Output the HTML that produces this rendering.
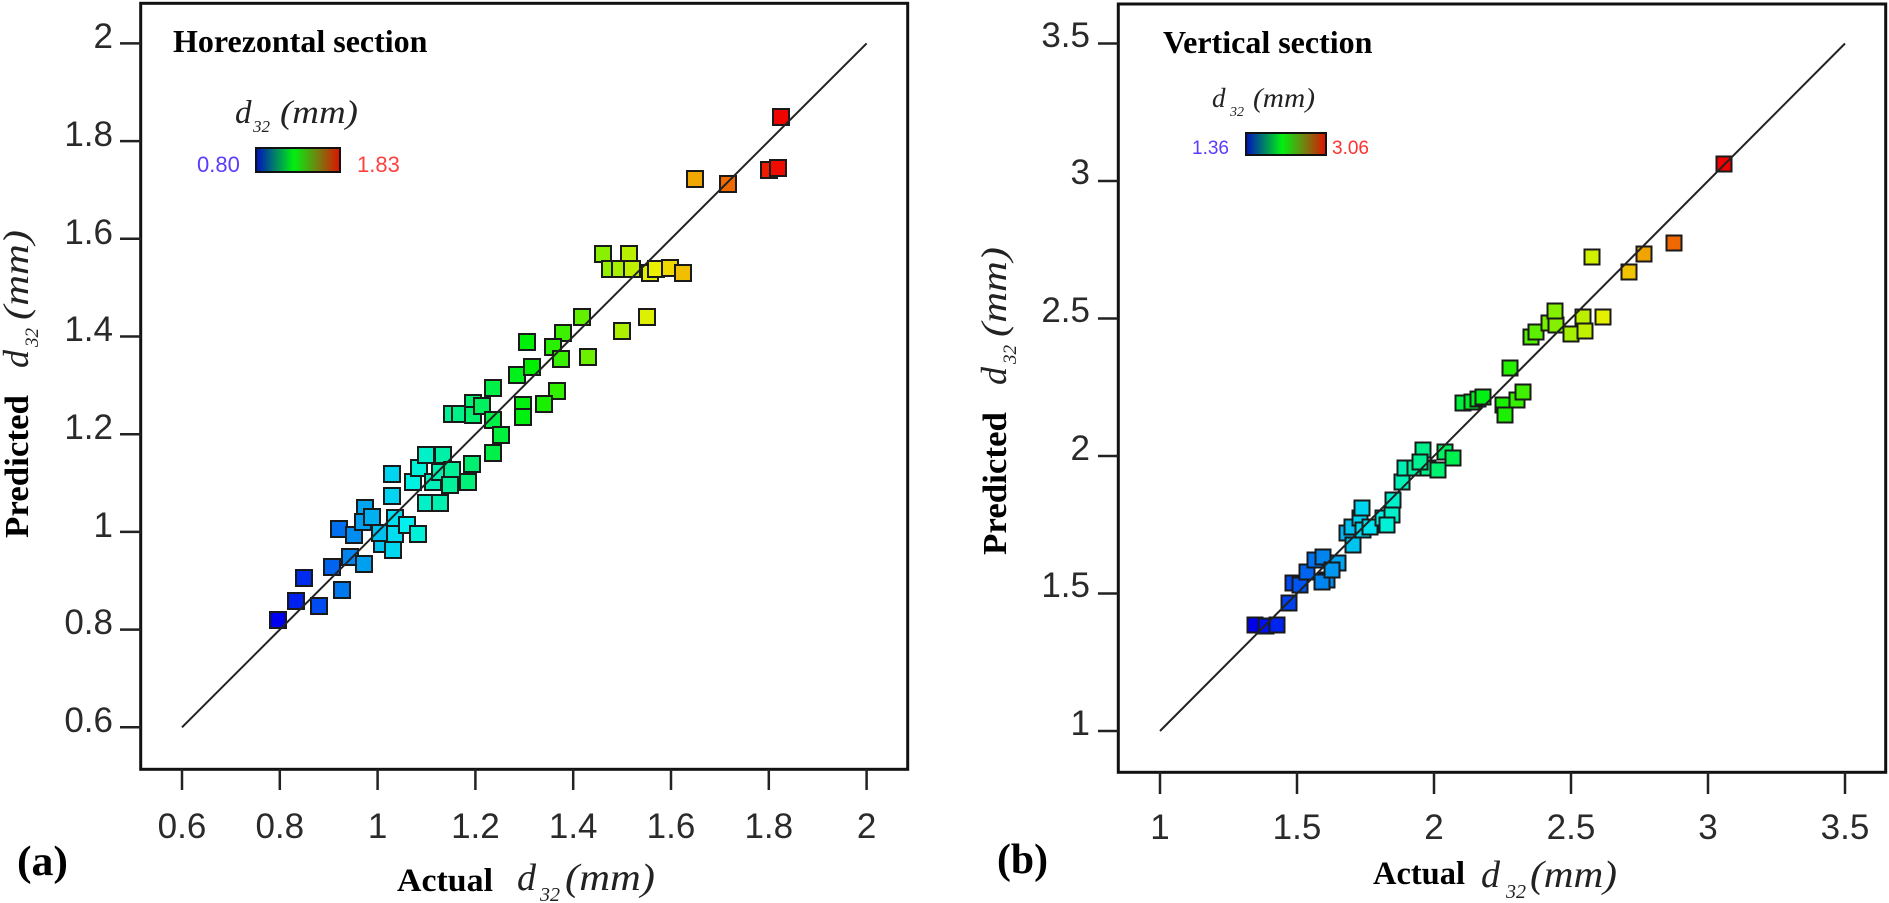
<!DOCTYPE html>
<html><head><meta charset="utf-8"><style>
html,body{margin:0;padding:0;background:#fff;}
svg{display:block;}
.tk{font-family:"Liberation Sans",sans-serif;font-size:35px;fill:#2a2a2a;}
.bs{font-family:"Liberation Serif",serif;font-weight:bold;fill:#000;}
.it{font-family:"Liberation Serif",serif;font-style:italic;fill:#222;}
</style></head><body>
<svg width="1889" height="903" viewBox="0 0 1889 903" xmlns="http://www.w3.org/2000/svg">
<defs>
<linearGradient id="cb" x1="0" x2="1" y1="0" y2="0">
<stop offset="0" stop-color="#0010c0"/>
<stop offset="0.45" stop-color="#00f010"/>
<stop offset="0.75" stop-color="#7a7a10"/>
<stop offset="1" stop-color="#e01000"/>
</linearGradient>
</defs>
<rect width="1889" height="903" fill="#fff"/>
<rect x="140.7" y="3.3" width="767" height="766" fill="none" stroke="#111" stroke-width="3"/>
<g stroke="#222" stroke-width="2.5">
<line x1="120" y1="727.3" x2="141" y2="727.3"/>
<line x1="120" y1="629.6" x2="141" y2="629.6"/>
<line x1="120" y1="531.9" x2="141" y2="531.9"/>
<line x1="120" y1="434.2" x2="141" y2="434.2"/>
<line x1="120" y1="336.5" x2="141" y2="336.5"/>
<line x1="120" y1="238.8" x2="141" y2="238.8"/>
<line x1="120" y1="141.1" x2="141" y2="141.1"/>
<line x1="120" y1="43.4" x2="141" y2="43.4"/>
<line x1="182" y1="769" x2="182" y2="790"/>
<line x1="279.8" y1="769" x2="279.8" y2="790"/>
<line x1="377.6" y1="769" x2="377.6" y2="790"/>
<line x1="475.4" y1="769" x2="475.4" y2="790"/>
<line x1="573.2" y1="769" x2="573.2" y2="790"/>
<line x1="671" y1="769" x2="671" y2="790"/>
<line x1="768.8" y1="769" x2="768.8" y2="790"/>
<line x1="866.6" y1="769" x2="866.6" y2="790"/>
</g>
<g class="tk" text-anchor="end">
<text x="113" y="732">0.6</text>
<text x="113" y="634">0.8</text>
<text x="113" y="537">1</text>
<text x="113" y="439">1.2</text>
<text x="113" y="341">1.4</text>
<text x="113" y="244">1.6</text>
<text x="113" y="146">1.8</text>
<text x="113" y="48">2</text>
</g>
<g class="tk" text-anchor="middle">
<text x="182" y="838">0.6</text>
<text x="279.8" y="838">0.8</text>
<text x="377.6" y="838">1</text>
<text x="475.4" y="838">1.2</text>
<text x="573.2" y="838">1.4</text>
<text x="671" y="838">1.6</text>
<text x="768.8" y="838">1.8</text>
<text x="866.6" y="838">2</text>
</g>
<text class="bs" x="173" y="52" font-size="32">Horezontal section</text>
<text class="it" x="235" y="123" font-size="33">d</text>
<text class="it" x="253" y="132" font-size="17" font-style="normal">32</text>
<text class="it" x="280" y="123" font-size="33" textLength="78" lengthAdjust="spacingAndGlyphs">(mm)</text>
<text x="197" y="172" font-family="Liberation Sans,sans-serif" font-size="22" fill="#5a3cff">0.80</text>
<rect x="256" y="148" width="84" height="24" fill="url(#cb)" stroke="#111" stroke-width="2"/>
<text x="357" y="172" font-family="Liberation Sans,sans-serif" font-size="22" fill="#ff4040">1.83</text>
<text class="bs" x="17" y="875" font-size="42" textLength="51" lengthAdjust="spacingAndGlyphs">(a)</text>
<text class="bs" x="397" y="891" font-size="33" textLength="96" lengthAdjust="spacingAndGlyphs">Actual</text>
<text class="it" x="517" y="890" font-size="38">d</text>
<text class="it" x="540" y="901" font-size="20" font-style="normal">32</text>
<text class="it" x="565" y="890" font-size="38" textLength="90" lengthAdjust="spacingAndGlyphs">(mm)</text>
<g transform="translate(28,538) rotate(-90)">
<text class="bs" x="0" y="0" font-size="34" textLength="143" lengthAdjust="spacingAndGlyphs">Predicted</text>
<text class="it" x="170" y="0" font-size="36">d</text>
<text class="it" x="191" y="10" font-size="19" font-style="normal">32</text>
<text class="it" x="218" y="0" font-size="36" textLength="90" lengthAdjust="spacingAndGlyphs">(mm)</text>
</g>
<g stroke="#1a1a1a" stroke-width="2">
<rect x="270" y="612" width="16" height="16" fill="hsl(240,100%,47%)"/>
<rect x="288" y="593" width="16" height="16" fill="hsl(232,100%,47%)"/>
<rect x="296" y="570" width="16" height="16" fill="hsl(229,100%,47%)"/>
<rect x="311" y="598" width="16" height="16" fill="hsl(221,100%,47%)"/>
<rect x="324" y="559" width="16" height="16" fill="hsl(215,100%,47%)"/>
<rect x="334" y="582" width="16" height="16" fill="hsl(210,100%,47%)"/>
<rect x="331" y="521" width="16" height="16" fill="hsl(212,100%,47%)"/>
<rect x="342" y="549" width="16" height="16" fill="hsl(207,100%,47%)"/>
<rect x="346" y="527" width="16" height="16" fill="hsl(205,100%,47%)"/>
<rect x="356" y="556" width="16" height="16" fill="hsl(200,100%,47%)"/>
<rect x="357" y="500" width="16" height="16" fill="hsl(199,100%,47%)"/>
<rect x="355" y="514" width="16" height="16" fill="hsl(200,100%,47%)"/>
<rect x="364" y="509" width="16" height="16" fill="hsl(196,100%,47%)"/>
<rect x="384" y="466" width="16" height="16" fill="hsl(187,100%,47%)"/>
<rect x="384" y="488" width="16" height="16" fill="hsl(187,100%,47%)"/>
<rect x="374" y="536" width="16" height="16" fill="hsl(191,100%,47%)"/>
<rect x="372" y="525" width="16" height="16" fill="hsl(192,100%,47%)"/>
<rect x="387" y="510" width="16" height="16" fill="hsl(185,100%,47%)"/>
<rect x="385" y="542" width="16" height="16" fill="hsl(186,100%,47%)"/>
<rect x="387" y="526" width="16" height="16" fill="hsl(185,100%,47%)"/>
<rect x="399" y="517" width="16" height="16" fill="hsl(180,100%,47%)"/>
<rect x="410" y="526" width="16" height="16" fill="hsl(174,100%,47%)"/>
<rect x="405" y="474" width="16" height="16" fill="hsl(177,100%,47%)"/>
<rect x="411" y="460" width="16" height="16" fill="hsl(174,100%,47%)"/>
<rect x="418" y="447" width="16" height="16" fill="hsl(170,100%,47%)"/>
<rect x="418" y="495" width="16" height="16" fill="hsl(170,100%,47%)"/>
<rect x="425" y="474" width="16" height="16" fill="hsl(167,100%,47%)"/>
<rect x="432" y="495" width="16" height="16" fill="hsl(164,100%,47%)"/>
<rect x="435" y="447" width="16" height="16" fill="hsl(162,100%,47%)"/>
<rect x="432" y="464" width="16" height="16" fill="hsl(164,100%,47%)"/>
<rect x="444" y="462" width="16" height="16" fill="hsl(158,100%,47%)"/>
<rect x="442" y="477" width="16" height="16" fill="hsl(159,100%,47%)"/>
<rect x="460" y="474" width="16" height="16" fill="hsl(150,100%,47%)"/>
<rect x="464" y="456" width="16" height="16" fill="hsl(148,100%,47%)"/>
<rect x="444" y="406" width="16" height="16" fill="hsl(158,100%,47%)"/>
<rect x="452" y="406" width="16" height="16" fill="hsl(154,100%,47%)"/>
<rect x="465" y="395" width="16" height="16" fill="hsl(148,100%,47%)"/>
<rect x="465" y="407" width="16" height="16" fill="hsl(148,100%,47%)"/>
<rect x="474" y="398" width="16" height="16" fill="hsl(144,100%,47%)"/>
<rect x="485" y="380" width="16" height="16" fill="hsl(138,100%,47%)"/>
<rect x="485" y="412" width="16" height="16" fill="hsl(138,100%,47%)"/>
<rect x="493" y="427" width="16" height="16" fill="hsl(135,100%,47%)"/>
<rect x="485" y="445" width="16" height="16" fill="hsl(138,100%,47%)"/>
<rect x="509" y="367" width="16" height="16" fill="hsl(127,100%,47%)"/>
<rect x="515" y="397" width="16" height="16" fill="hsl(124,100%,47%)"/>
<rect x="515" y="409" width="16" height="16" fill="hsl(124,100%,47%)"/>
<rect x="524" y="359" width="16" height="16" fill="hsl(120,100%,47%)"/>
<rect x="519" y="334" width="16" height="16" fill="hsl(122,100%,47%)"/>
<rect x="595" y="246" width="16" height="16" fill="hsl(86,100%,47%)"/>
<rect x="621" y="246" width="16" height="16" fill="hsl(74,100%,47%)"/>
<rect x="602" y="261" width="16" height="16" fill="hsl(83,100%,47%)"/>
<rect x="612" y="261" width="16" height="16" fill="hsl(78,100%,47%)"/>
<rect x="624" y="261" width="16" height="16" fill="hsl(72,100%,47%)"/>
<rect x="642" y="265" width="16" height="16" fill="hsl(64,100%,47%)"/>
<rect x="648" y="261" width="16" height="16" fill="hsl(61,100%,47%)"/>
<rect x="662" y="260" width="16" height="16" fill="hsl(54,100%,47%)"/>
<rect x="675" y="265" width="16" height="16" fill="hsl(48,100%,47%)"/>
<rect x="639" y="309" width="16" height="16" fill="hsl(65,100%,47%)"/>
<rect x="614" y="323" width="16" height="16" fill="hsl(77,100%,47%)"/>
<rect x="687" y="171" width="16" height="16" fill="hsl(42,100%,47%)"/>
<rect x="720" y="176" width="16" height="16" fill="hsl(26,100%,47%)"/>
<rect x="773" y="109" width="16" height="16" fill="hsl(1,100%,47%)"/>
<rect x="761" y="162" width="16" height="16" fill="hsl(7,100%,47%)"/>
<rect x="770" y="160" width="16" height="16" fill="hsl(3,100%,47%)"/>
<rect x="574" y="309" width="16" height="16" fill="hsl(96,100%,47%)"/>
<rect x="555" y="325" width="16" height="16" fill="hsl(105,100%,47%)"/>
<rect x="545" y="339" width="16" height="16" fill="hsl(110,100%,47%)"/>
<rect x="553" y="351" width="16" height="16" fill="hsl(106,100%,47%)"/>
<rect x="580" y="349" width="16" height="16" fill="hsl(93,100%,47%)"/>
<rect x="549" y="383" width="16" height="16" fill="hsl(108,100%,47%)"/>
<rect x="536" y="396" width="16" height="16" fill="hsl(114,100%,47%)"/>
</g>
<line x1="182" y1="727.3" x2="866.6" y2="43.4" stroke="#222" stroke-width="2"/>
<rect x="1118.3" y="4" width="767.4" height="768.3" fill="none" stroke="#111" stroke-width="3"/>
<g stroke="#222" stroke-width="2.5">
<line x1="1098" y1="731" x2="1118" y2="731"/>
<line x1="1098" y1="593.5" x2="1118" y2="593.5"/>
<line x1="1098" y1="456" x2="1118" y2="456"/>
<line x1="1098" y1="318.5" x2="1118" y2="318.5"/>
<line x1="1098" y1="181" x2="1118" y2="181"/>
<line x1="1098" y1="43.5" x2="1118" y2="43.5"/>
<line x1="1160" y1="772" x2="1160" y2="794"/>
<line x1="1297" y1="772" x2="1297" y2="794"/>
<line x1="1434" y1="772" x2="1434" y2="794"/>
<line x1="1571" y1="772" x2="1571" y2="794"/>
<line x1="1708" y1="772" x2="1708" y2="794"/>
<line x1="1845" y1="772" x2="1845" y2="794"/>
</g>
<g class="tk" text-anchor="end">
<text x="1090" y="735">1</text>
<text x="1090" y="597">1.5</text>
<text x="1090" y="460">2</text>
<text x="1090" y="322">2.5</text>
<text x="1090" y="184">3</text>
<text x="1090" y="47">3.5</text>
</g>
<g class="tk" text-anchor="middle">
<text x="1160" y="839">1</text>
<text x="1297" y="839">1.5</text>
<text x="1434" y="839">2</text>
<text x="1571" y="839">2.5</text>
<text x="1708" y="839">3</text>
<text x="1845" y="839">3.5</text>
</g>
<text class="bs" x="1163" y="53" font-size="32">Vertical section</text>
<text class="it" x="1212" y="107" font-size="27">d</text>
<text class="it" x="1230" y="116" font-size="14" font-style="normal">32</text>
<text class="it" x="1253" y="107" font-size="27" textLength="62" lengthAdjust="spacingAndGlyphs">(mm)</text>
<text x="1192" y="154" font-family="Liberation Sans,sans-serif" font-size="19" fill="#5a3cff">1.36</text>
<rect x="1246" y="133" width="80" height="22" fill="url(#cb)" stroke="#111" stroke-width="2"/>
<text x="1332" y="154" font-family="Liberation Sans,sans-serif" font-size="19" fill="#ff3030">3.06</text>
<text class="bs" x="997" y="873" font-size="42" textLength="51" lengthAdjust="spacingAndGlyphs">(b)</text>
<text class="bs" x="1373" y="884" font-size="33" textLength="92" lengthAdjust="spacingAndGlyphs">Actual</text>
<text class="it" x="1481" y="887" font-size="38">d</text>
<text class="it" x="1506" y="898" font-size="20" font-style="normal">32</text>
<text class="it" x="1530" y="887" font-size="38" textLength="87" lengthAdjust="spacingAndGlyphs">(mm)</text>
<g transform="translate(1006,555) rotate(-90)">
<text class="bs" x="0" y="0" font-size="34" textLength="143" lengthAdjust="spacingAndGlyphs">Predicted</text>
<text class="it" x="170" y="0" font-size="36">d</text>
<text class="it" x="191" y="10" font-size="19" font-style="normal">32</text>
<text class="it" x="218" y="0" font-size="36" textLength="90" lengthAdjust="spacingAndGlyphs">(mm)</text>
</g>
<g stroke="#1a1a1a" stroke-width="2">
<rect x="1247.5" y="617.5" width="15" height="15" fill="hsl(240,100%,47%)"/>
<rect x="1258.5" y="618.5" width="15" height="15" fill="hsl(236,100%,47%)"/>
<rect x="1269.5" y="617.5" width="15" height="15" fill="hsl(231,100%,47%)"/>
<rect x="1281.5" y="595.5" width="15" height="15" fill="hsl(224,100%,47%)"/>
<rect x="1285.5" y="575.5" width="15" height="15" fill="hsl(222,100%,47%)"/>
<rect x="1292.5" y="577.5" width="15" height="15" fill="hsl(219,100%,47%)"/>
<rect x="1299.5" y="564.5" width="15" height="15" fill="hsl(215,100%,47%)"/>
<rect x="1307.5" y="552.5" width="15" height="15" fill="hsl(211,100%,47%)"/>
<rect x="1315.5" y="549.5" width="15" height="15" fill="hsl(207,100%,47%)"/>
<rect x="1319.5" y="572.5" width="15" height="15" fill="hsl(205,100%,47%)"/>
<rect x="1314.5" y="574.5" width="15" height="15" fill="hsl(207,100%,47%)"/>
<rect x="1330.5" y="555.5" width="15" height="15" fill="hsl(199,100%,47%)"/>
<rect x="1324.5" y="562.5" width="15" height="15" fill="hsl(202,100%,47%)"/>
<rect x="1339.5" y="525.5" width="15" height="15" fill="hsl(195,100%,47%)"/>
<rect x="1345.5" y="537.5" width="15" height="15" fill="hsl(191,100%,47%)"/>
<rect x="1344.5" y="519.5" width="15" height="15" fill="hsl(192,100%,47%)"/>
<rect x="1352.5" y="510.5" width="15" height="15" fill="hsl(188,100%,47%)"/>
<rect x="1354.5" y="500.5" width="15" height="15" fill="hsl(187,100%,47%)"/>
<rect x="1355.5" y="522.5" width="15" height="15" fill="hsl(186,100%,47%)"/>
<rect x="1362.5" y="519.5" width="15" height="15" fill="hsl(183,100%,47%)"/>
<rect x="1375.5" y="510.5" width="15" height="15" fill="hsl(176,100%,47%)"/>
<rect x="1384.5" y="507.5" width="15" height="15" fill="hsl(171,100%,47%)"/>
<rect x="1379.5" y="517.5" width="15" height="15" fill="hsl(174,100%,47%)"/>
<rect x="1385.5" y="492.5" width="15" height="15" fill="hsl(171,100%,47%)"/>
<rect x="1394.5" y="474.5" width="15" height="15" fill="hsl(166,100%,47%)"/>
<rect x="1397.5" y="460.5" width="15" height="15" fill="hsl(165,100%,47%)"/>
<rect x="1407.5" y="460.5" width="15" height="15" fill="hsl(159,100%,47%)"/>
<rect x="1415.5" y="442.5" width="15" height="15" fill="hsl(155,100%,47%)"/>
<rect x="1420.5" y="460.5" width="15" height="15" fill="hsl(153,100%,47%)"/>
<rect x="1430.5" y="462.5" width="15" height="15" fill="hsl(148,100%,47%)"/>
<rect x="1437.5" y="444.5" width="15" height="15" fill="hsl(144,100%,47%)"/>
<rect x="1445.5" y="450.5" width="15" height="15" fill="hsl(140,100%,47%)"/>
<rect x="1412.5" y="454.5" width="15" height="15" fill="hsl(157,100%,47%)"/>
<rect x="1455.5" y="395.5" width="15" height="15" fill="hsl(135,100%,47%)"/>
<rect x="1464.5" y="394.5" width="15" height="15" fill="hsl(130,100%,47%)"/>
<rect x="1470.5" y="391.5" width="15" height="15" fill="hsl(127,100%,47%)"/>
<rect x="1475.5" y="389.5" width="15" height="15" fill="hsl(125,100%,47%)"/>
<rect x="1495.5" y="397.5" width="15" height="15" fill="hsl(114,100%,47%)"/>
<rect x="1497.5" y="407.5" width="15" height="15" fill="hsl(113,100%,47%)"/>
<rect x="1509.5" y="392.5" width="15" height="15" fill="hsl(107,100%,47%)"/>
<rect x="1515.5" y="384.5" width="15" height="15" fill="hsl(104,100%,47%)"/>
<rect x="1502.5" y="360.5" width="15" height="15" fill="hsl(111,100%,47%)"/>
<rect x="1523.5" y="329.5" width="15" height="15" fill="hsl(100,100%,47%)"/>
<rect x="1528.5" y="324.5" width="15" height="15" fill="hsl(97,100%,47%)"/>
<rect x="1541.5" y="315.5" width="15" height="15" fill="hsl(90,100%,47%)"/>
<rect x="1548.5" y="317.5" width="15" height="15" fill="hsl(87,100%,47%)"/>
<rect x="1547.5" y="303.5" width="15" height="15" fill="hsl(87,100%,47%)"/>
<rect x="1563.5" y="326.5" width="15" height="15" fill="hsl(79,100%,47%)"/>
<rect x="1575.5" y="309.5" width="15" height="15" fill="hsl(73,100%,47%)"/>
<rect x="1577.5" y="323.5" width="15" height="15" fill="hsl(72,100%,47%)"/>
<rect x="1595.5" y="309.5" width="15" height="15" fill="hsl(63,100%,47%)"/>
<rect x="1584.5" y="249.5" width="15" height="15" fill="hsl(68,100%,47%)"/>
<rect x="1621.5" y="264.5" width="15" height="15" fill="hsl(49,100%,47%)"/>
<rect x="1636.5" y="246.5" width="15" height="15" fill="hsl(41,100%,47%)"/>
<rect x="1666.5" y="235.5" width="15" height="15" fill="hsl(26,100%,47%)"/>
<rect x="1716.5" y="156.5" width="15" height="15" fill="hsl(0,100%,47%)"/>
</g>
<line x1="1160" y1="731" x2="1845" y2="43.5" stroke="#222" stroke-width="2"/>
</svg>
</body></html>
